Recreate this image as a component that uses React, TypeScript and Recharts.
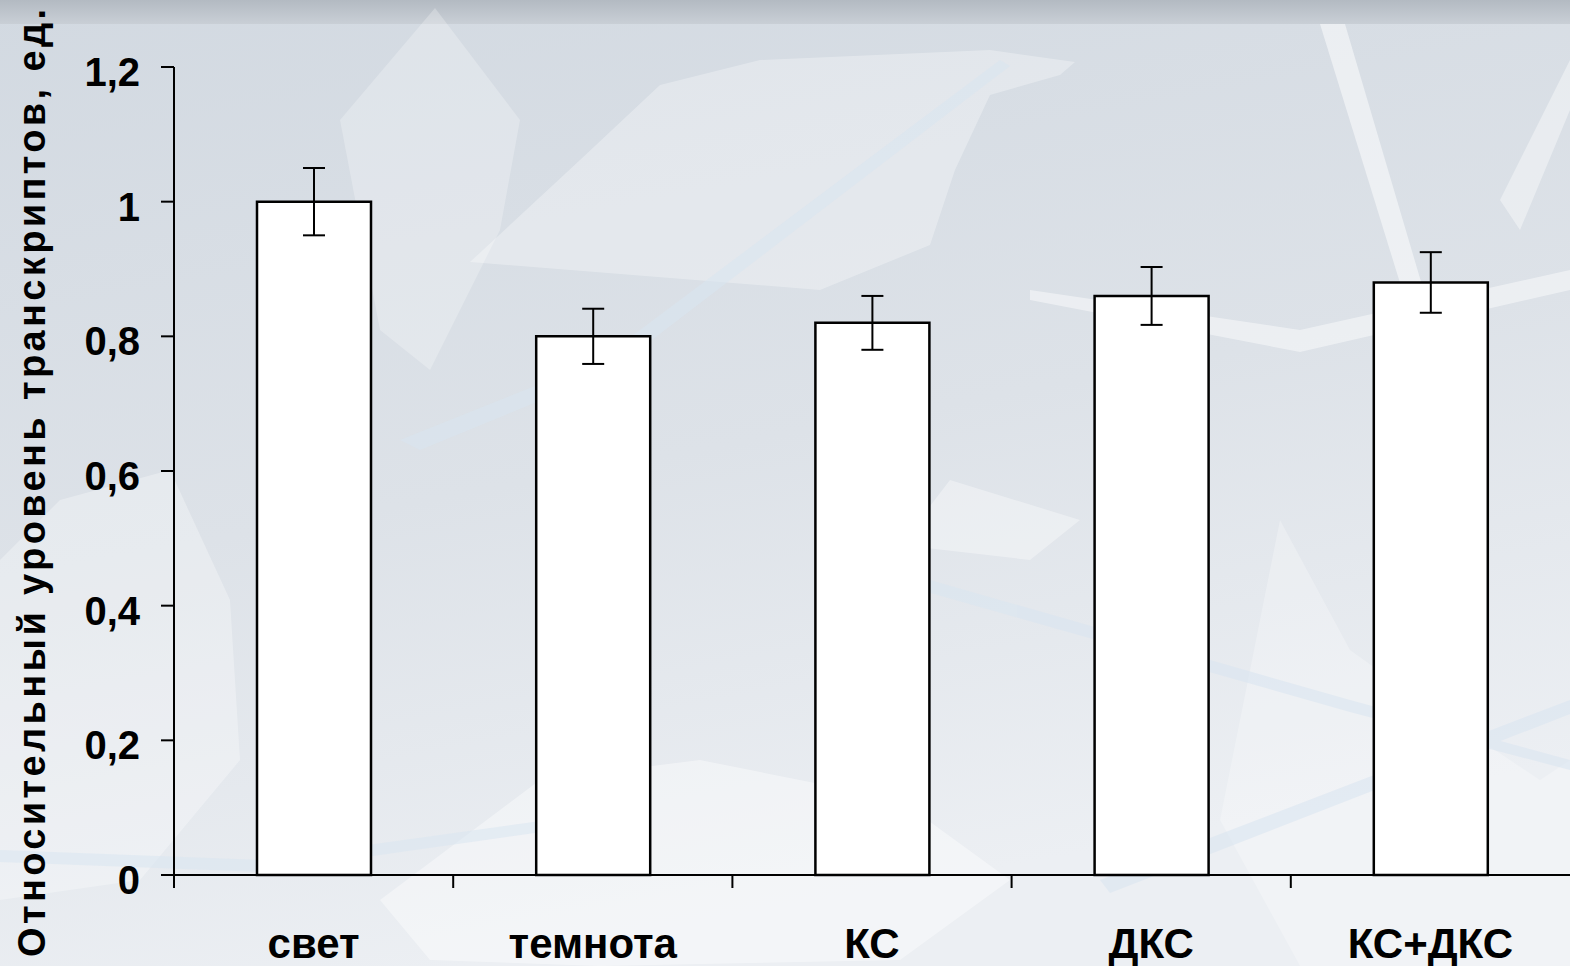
import { BarChart, Bar, XAxis, YAxis, ErrorBar, Label } from "recharts";

const categories = ["свет", "темнота", "КС", "ДКС", "КС+ДКС"];
const levels = [1.0, 0.8, 0.82, 0.86, 0.88];
const errors = [0.05, 0.041, 0.04, 0.043, 0.045];
const yTicks = [0, 0.2, 0.4, 0.6, 0.8, 1, 1.2];
const yTitle = "Относительный уровень транскриптов, ед.";

const data = categories.map((name, i) => ({ name, level: levels[i], err: errors[i] }));

const W = 1570;
const H = 966;
const font = "'Liberation Sans', Arial, sans-serif";

// faint leaf shapes behind the chart
const Backdrop = () => (
  <svg width={W} height={H} style={{ position: "absolute", left: 0, top: 0 }}>
    <defs>
      <linearGradient id="bg" x1="0" y1="0" x2="0.3" y2="1">
        <stop offset="0%" stopColor="#d2d9e1" />
        <stop offset="55%" stopColor="#dde2e8" />
        <stop offset="100%" stopColor="#eceff3" />
      </linearGradient>
      <linearGradient id="top" x1="0" y1="0" x2="0" y2="1">
        <stop offset="0%" stopColor="#b3bac2" />
        <stop offset="100%" stopColor="#c9cfd6" />
      </linearGradient>
    </defs>
    <rect width={W} height={H} fill="url(#bg)" />
    <rect width={W} height={24} fill="url(#top)" />
    <g fill="#ffffff">
      <polygon points="470,262 580,160 660,85 760,60 990,50 1075,62 1060,75 990,95 955,170 930,245 820,290" opacity={0.3} />
      <polygon points="340,120 435,8 520,120 500,230 430,370 380,330" opacity={0.25} />
      <polygon points="0,560 60,500 170,470 230,600 240,760 140,880 0,900" opacity={0.3} />
      <polygon points="540,780 700,760 900,800 1010,880 900,960 600,966 430,960 380,900" opacity={0.4} />
      <polygon points="1280,520 1350,650 1420,700 1540,780 1570,760 1570,966 1300,966 1220,820" opacity={0.25} />
      <polygon points="950,480 1080,520 1030,560 900,545" opacity={0.35} />
      <polygon points="1030,290 1300,330 1570,270 1570,290 1300,352 1030,300" opacity={0.45} />
      <polygon points="1320,24 1345,24 1450,380 1430,380" opacity={0.5} />
      <polygon points="1500,200 1570,60 1570,110 1520,230" opacity={0.4} />
    </g>
    <g fill="#d9e5f1" opacity={0.55}>
      <polygon points="400,440 600,360 1000,60 1010,66 610,372 420,450" />
      <polygon points="0,850 260,860 620,810 640,818 260,872 0,862" />
      <polygon points="930,580 1350,700 1570,760 1570,770 1350,712 920,590" />
      <polygon points="1100,880 1570,700 1570,714 1110,893" />
    </g>
  </svg>
);

const YTick = (p: any) => {
  const { x, y, payload } = p;
  return (
    <text x={x} y={y + 19} textAnchor="end" fontFamily={font} fontWeight={700} fontSize={40} fill="#000">
      {String(payload.value).replace(".", ",")}
    </text>
  );
};

const XTick = (p: any) => {
  const { x, y, payload } = p;
  const half = payload?.offset ?? 0;
  return (
    <g>
      <line x1={x - half} x2={x - half} y1={y} y2={y + 13} stroke="#000" strokeWidth={2} />
      <text x={x} y={y + 83} textAnchor="middle" fontFamily={font} fontWeight={700} fontSize={42} fill="#000">
        {payload.value}
      </text>
    </g>
  );
};

const Title = () => (
  <text
    transform="translate(45,483) rotate(-90)"
    textAnchor="middle"
    fontFamily={font}
    fontWeight={700}
    fontSize={38}
    fill="#000"
    textLength={948}
    lengthAdjust="spacing"
  >
    {yTitle}
  </text>
);

export default function App() {
  return (
    <div style={{ position: "absolute", left: 0, top: 0, width: W, height: H, overflow: "hidden" }}>
      <Backdrop />
      <div style={{ position: "absolute", left: 0, top: 0 }}>
        <BarChart width={W} height={H} data={data} margin={{ top: 67, right: 0, bottom: 0, left: 0 }}>
          <XAxis
            dataKey="name"
            height={91}
            tickSize={0}
            tickMargin={0}
            tickLine={false}
            axisLine={{ stroke: "#000", strokeWidth: 2 }}
            tick={<XTick />}
            interval={0}
          />
          <YAxis
            width={174}
            domain={[0, 1.2]}
            ticks={yTicks}
            interval={0}
            tickSize={13}
            tickMargin={21}
            tickLine={{ stroke: "#000", strokeWidth: 2 }}
            axisLine={{ stroke: "#000", strokeWidth: 2 }}
            tick={<YTick />}
          >
            <Label content={<Title />} />
          </YAxis>
          <Bar dataKey="level" barSize={114} fill="#ffffff" stroke="#000" strokeWidth={2.5} isAnimationActive={false}>
            <ErrorBar dataKey="err" direction="y" width={11} stroke="#000" strokeWidth={2} isAnimationActive={false} />
          </Bar>
        </BarChart>
      </div>
    </div>
  );
}
